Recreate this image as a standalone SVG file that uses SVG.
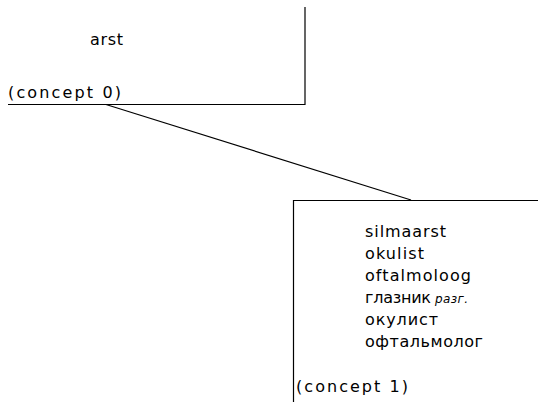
<svg xmlns="http://www.w3.org/2000/svg" width="538" height="402" viewBox="0 0 538 402">
  <style>
    .t { font-family: "DejaVu Sans", Verdana, sans-serif; font-size: 16px; fill: #000; }
    .abbr { font-family: "DejaVu Sans", Verdana, sans-serif; font-size: 12px; font-style: italic; fill: #000; }
    .edge { stroke: #000; stroke-width: 1.2; fill: none; }
  </style>
  <rect width="538" height="402" fill="#fff"/>

  <!-- connectors -->
  <g id="connectors">
    <line class="edge" x1="106" y1="104.5" x2="411" y2="200"/>
  </g>

  <!-- concept 0 -->
  <g id="concept0">
    <polyline class="edge" points="305,7 305,104.5 8,104.5"/>
    <text class="t" x="90" y="45" textLength="33">arst</text>
    <text class="t" x="8" y="98" textLength="113">(concept 0)</text>
  </g>

  <!-- concept 1 -->
  <g id="concept1">
    <polyline class="edge" points="293.5,402 293.5,200.5 538,200.5"/>
    <text class="t" x="365" y="237" textLength="81">silmaarst</text>
    <text class="t" x="365" y="259" textLength="59">okulist</text>
    <text class="t" x="365" y="281" textLength="106">oftalmoloog</text>
    <text class="t" x="365" y="303" textLength="66">глазник</text>
    <text class="abbr" x="435" y="303" textLength="33">разг.</text>
    <text class="t" x="365" y="325" textLength="73">окулист</text>
    <text class="t" x="365" y="347" textLength="118">офтальмолог</text>
    <text class="t" x="296" y="392" textLength="112">(concept 1)</text>
  </g>
</svg>
